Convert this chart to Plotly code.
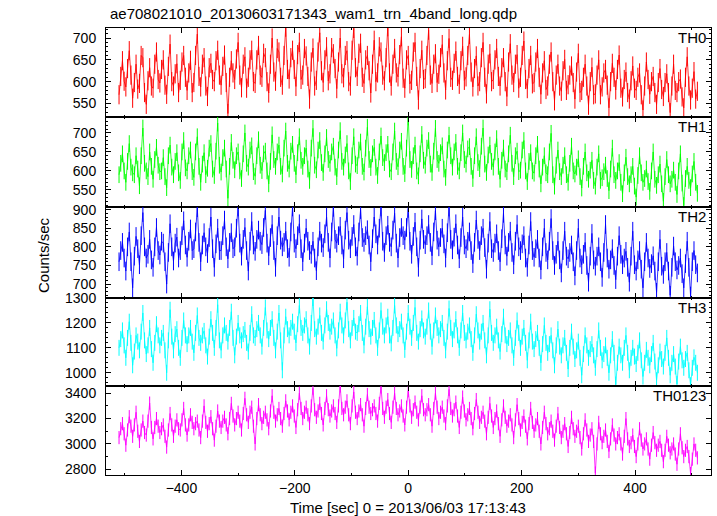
import plotly.graph_objects as go

# ---------------- data ----------------
TITLE = "ae708021010_20130603171343_wam1_trn_4band_long.qdp"
X_LABEL = "Time [sec] 0 = 2013/06/03 17:13:43"
Y_LABEL = "Counts/sec"
PANEL_NAMES = ["TH0", "TH1", "TH2", "TH3", "TH0123"]
COLORS = ["#ff0000", "#00ff00", "#0000ff", "#00ffff", "#ff00ff"]

T_START = -510
T_STEP = 3
N_POINTS = 341
time_sec = [T_START + T_STEP * i for i in range(N_POINTS)]

# typical 1-sigma error bar of each band (counts/sec)
ERRORS = [22, 22, 25, 32, 52]

th0 = [570, 612, 648, 601, 588, 630, 671, 615, 562, 598, 640, 583, 596, 660, 655, 575, 548, 602, 632, 590,
       585, 640, 668, 605, 597, 628, 650, 592, 571, 635, 686, 600, 590, 618, 641, 575, 603, 645, 660, 610,
       580, 620, 649, 575, 598, 660, 709, 612, 588, 640, 655, 590, 566, 632, 642, 605, 600, 648, 672, 615,
       592, 635, 661, 598, 527, 610, 648, 620, 605, 652, 690, 615, 586, 640, 657, 585, 610, 650, 672, 600,
       596, 650, 683, 615, 610, 665, 655, 600, 574, 640, 700, 622, 601, 676, 668, 610, 592, 660, 725, 628,
       606, 655, 672, 628, 589, 662, 690, 605, 615, 676, 659, 612, 560, 645, 677, 590, 603, 668, 712, 625,
       598, 650, 680, 602, 618, 678, 664, 630, 584, 645, 700, 618, 609, 660, 671, 600, 590, 672, 722, 632,
       612, 665, 688, 610, 596, 650, 660, 625, 574, 640, 695, 600, 620, 680, 668, 615, 602, 655, 726, 620,
       590, 640, 676, 620, 611, 662, 703, 608, 585, 650, 660, 595, 603, 668, 690, 612, 558, 630, 672, 605,
       607, 660, 718, 615, 596, 640, 664, 598, 617, 655, 685, 620, 581, 648, 699, 610, 603, 642, 670, 612,
       594, 648, 681, 603, 611, 660, 708, 622, 588, 630, 659, 590, 600, 655, 690, 610, 572, 640, 664, 600,
       605, 650, 676, 612, 590, 632, 655, 600, 566, 645, 687, 615, 598, 640, 662, 585, 610, 660, 693, 605,
       584, 630, 660, 595, 598, 645, 676, 610, 571, 620, 648, 582, 590, 640, 668, 600, 556, 615, 640, 590,
       578, 625, 651, 580, 593, 615, 636, 598, 560, 622, 665, 575, 580, 610, 640, 590, 546, 600, 633, 570,
       572, 615, 650, 570, 588, 620, 628, 592, 540, 600, 642, 610, 581, 628, 661, 585, 565, 605, 622, 575,
       560, 602, 636, 585, 580, 610, 620, 570, 535, 590, 645, 605, 571, 600, 612, 575, 548, 598, 630, 582,
       566, 598, 618, 575, 529, 590, 640, 580, 575, 600, 606, 565, 540, 610, 657, 590, 558, 585, 623, 560, 578]

th1 = [590, 620, 645, 600, 570, 625, 672, 610, 595, 590, 640, 605, 561, 640, 713, 620, 600, 585, 650, 612,
       578, 630, 662, 615, 598, 600, 635, 585, 556, 640, 668, 610, 590, 625, 648, 595, 575, 650, 680, 608,
       600, 640, 655, 598, 583, 650, 690, 612, 570, 618, 648, 590, 607, 660, 672, 605, 588, 652, 726, 615,
       597, 635, 660, 605, 528, 612, 675, 628, 603, 640, 650, 600, 580, 645, 700, 620, 610, 655, 666, 598,
       586, 640, 682, 615, 601, 645, 652, 600, 566, 625, 695, 630, 612, 650, 668, 612, 592, 660, 705, 620,
       605, 652, 670, 620, 590, 648, 690, 628, 612, 640, 660, 605, 575, 660, 712, 615, 603, 655, 680, 622,
       596, 645, 688, 630, 620, 650, 665, 610, 585, 655, 706, 625, 610, 642, 672, 600, 572, 640, 690, 618,
       614, 655, 676, 612, 597, 660, 715, 630, 609, 645, 662, 610, 588, 650, 692, 635, 622, 648, 670, 605,
       598, 650, 705, 625, 611, 655, 678, 612, 593, 660, 742, 630, 604, 640, 668, 600, 587, 645, 696, 628,
       615, 660, 680, 618, 596, 652, 712, 630, 620, 648, 666, 605, 583, 655, 694, 640, 610, 650, 675, 612,
       600, 648, 700, 630, 618, 658, 664, 612, 580, 640, 690, 622, 606, 665, 713, 618, 596, 642, 668, 625,
       610, 650, 685, 612, 578, 628, 660, 605, 598, 645, 694, 620, 585, 640, 652, 598, 602, 655, 680, 600,
       572, 625, 648, 600, 594, 640, 670, 605, 566, 610, 640, 595, 590, 650, 699, 590, 560, 615, 655, 598,
       585, 615, 640, 590, 570, 620, 665, 600, 592, 610, 632, 585, 555, 612, 650, 595, 578, 602, 628, 575,
       560, 610, 645, 575, 582, 598, 615, 580, 548, 605, 660, 590, 575, 600, 622, 570, 540, 595, 636, 585,
       566, 590, 612, 560, 531, 588, 640, 595, 570, 580, 605, 572, 546, 600, 650, 578, 562, 590, 618, 566,
       520, 585, 630, 590, 566, 578, 602, 570, 538, 600, 645, 568, 509, 580, 612, 575, 556, 592, 625, 570, 541]

th2 = [760, 790, 812, 770, 735, 800, 840, 760, 690, 775, 828, 795, 752, 830, 892, 800, 770, 780, 820, 765,
       745, 800, 852, 790, 778, 815, 810, 760, 700, 785, 862, 800, 762, 810, 826, 770, 790, 830, 870, 805,
       772, 815, 848, 790, 795, 840, 905, 812, 760, 805, 838, 800, 782, 825, 880, 795, 745, 808, 850, 790,
       790, 830, 872, 800, 768, 812, 838, 795, 800, 850, 907, 810, 775, 820, 852, 790, 735, 815, 868, 805,
       788, 820, 845, 815, 806, 852, 898, 810, 776, 825, 860, 790, 745, 830, 880, 818, 800, 812, 842, 795,
       772, 840, 907, 810, 795, 830, 862, 795, 760, 810, 850, 815, 790, 780, 815, 770, 736, 800, 842, 810,
       798, 835, 880, 812, 770, 840, 906, 820, 810, 830, 855, 805, 768, 845, 892, 818, 795, 828, 860, 800,
       775, 840, 900, 825, 812, 830, 846, 805, 760, 822, 880, 835, 805, 850, 907, 815, 785, 830, 858, 812,
       800, 845, 890, 810, 770, 825, 852, 830, 818, 852, 903, 815, 780, 828, 866, 800, 745, 818, 875, 820,
       806, 830, 860, 812, 776, 840, 897, 818, 800, 825, 850, 808, 770, 838, 907, 820, 792, 826, 862, 805,
       768, 825, 880, 805, 795, 815, 840, 790, 755, 812, 872, 820, 790, 830, 850, 798, 740, 810, 868, 795,
       785, 810, 835, 790, 760, 822, 890, 805, 775, 812, 842, 785, 752, 815, 860, 800, 790, 808, 830, 770,
       745, 805, 868, 790, 772, 795, 820, 770, 738, 800, 850, 785, 765, 815, 876, 790, 750, 780, 815, 765,
       730, 790, 842, 775, 768, 785, 805, 760, 722, 790, 850, 770, 752, 780, 812, 750, 705, 775, 836, 765,
       748, 775, 800, 760, 718, 785, 860, 770, 740, 765, 795, 750, 712, 775, 830, 780, 752, 770, 788, 745,
       705, 775, 842, 752, 735, 765, 790, 740, 690, 760, 812, 770, 742, 755, 776, 735, 678, 760, 820, 748,
       726, 760, 785, 735, 670, 745, 802, 760, 738, 750, 770, 728, 690, 755, 815, 745, 668, 760, 790, 752, 730]

th3 = [1100, 1135, 1170, 1110, 1060, 1140, 1205, 1120, 1030, 1085, 1150, 1125, 1090, 1165, 1240, 1130, 1075, 1110, 1180, 1095,
       1040, 1120, 1195, 1150, 1110, 1140, 1160, 1090, 1000, 1130, 1253, 1145, 1090, 1155, 1175, 1100, 1060, 1140, 1210, 1150,
       1115, 1150, 1180, 1125, 1080, 1160, 1230, 1140, 1120, 1150, 1168, 1110, 1065, 1145, 1215, 1160, 1100, 1180, 1273, 1130,
       1090, 1150, 1190, 1160, 1125, 1180, 1245, 1140, 1070, 1145, 1200, 1150, 1130, 1155, 1172, 1120, 1085, 1160, 1235, 1150,
       1140, 1175, 1200, 1150, 1105, 1180, 1262, 1170, 1135, 1180, 1215, 1140, 1090, 1165, 1240, 1130, 1010, 1150, 1225, 1175,
       1150, 1180, 1205, 1165, 1120, 1195, 1270, 1180, 1160, 1190, 1215, 1150, 1105, 1200, 1300, 1175, 1145, 1185, 1230, 1160,
       1125, 1190, 1255, 1200, 1165, 1185, 1210, 1150, 1098, 1170, 1245, 1190, 1150, 1210, 1283, 1175, 1130, 1180, 1220, 1165,
       1160, 1195, 1240, 1160, 1110, 1185, 1265, 1175, 1145, 1180, 1212, 1150, 1100, 1170, 1250, 1185, 1150, 1190, 1225, 1150,
       1118, 1180, 1270, 1190, 1155, 1175, 1205, 1150, 1092, 1165, 1240, 1185, 1140, 1200, 1262, 1160, 1125, 1175, 1218, 1170,
       1145, 1185, 1250, 1165, 1105, 1170, 1230, 1180, 1150, 1175, 1200, 1140, 1090, 1165, 1258, 1180, 1135, 1170, 1215, 1150,
       1100, 1170, 1240, 1160, 1130, 1165, 1190, 1135, 1080, 1150, 1235, 1170, 1125, 1165, 1200, 1130, 1070, 1150, 1255, 1160,
       1120, 1150, 1185, 1130, 1085, 1155, 1225, 1150, 1115, 1140, 1170, 1110, 1060, 1140, 1210, 1160, 1100, 1145, 1180, 1120,
       1050, 1130, 1205, 1125, 1095, 1135, 1160, 1100, 1040, 1115, 1190, 1120, 1080, 1115, 1150, 1090, 1030, 1110, 1175, 1105,
       1070, 1110, 1140, 1080, 1015, 1100, 1165, 1105, 1055, 1090, 1125, 1060, 990, 1075, 1150, 1110, 1060, 1095, 1115, 1070,
       1020, 1095, 1170, 1100, 1050, 1075, 1110, 1060, 1000, 1070, 1135, 1080, 953, 1040, 1105, 1070, 1040, 1100, 1150, 1080,
       1010, 1060, 1100, 1065, 1035, 1080, 1130, 1050, 985, 1040, 1092, 1060, 1030, 1075, 1120, 1045, 970, 1030, 1085, 1055,
       1025, 1080, 1140, 1060, 990, 1040, 1075, 1025, 955, 1045, 1105, 1050, 1020, 1055, 1080, 1010, 950, 1020, 1062, 1040, 1000]

th0123 = [3050, 3120, 3160, 3080, 2990, 3110, 3215, 3140, 3060, 3150, 3250, 3100, 3020, 3110, 3180, 3090, 3070, 3180, 3322, 3130,
          3040, 3130, 3200, 3140, 3090, 3120, 3150, 3060, 2975, 3110, 3240, 3150, 3060, 3140, 3190, 3120, 3110, 3190, 3280, 3150,
          3070, 3150, 3230, 3170, 3120, 3160, 3180, 3110, 3050, 3180, 3300, 3170, 3100, 3160, 3215, 3120, 3030, 3140, 3260, 3180,
          3130, 3180, 3210, 3150, 3080, 3200, 3320, 3220, 3150, 3200, 3250, 3180, 3110, 3240, 3360, 3230, 3170, 3250, 3290, 3140,
          3000, 3200, 3310, 3230, 3160, 3210, 3250, 3190, 3120, 3260, 3380, 3250, 3180, 3230, 3280, 3200, 3140, 3240, 3340, 3260,
          3190, 3250, 3300, 3220, 3130, 3270, 3400, 3280, 3200, 3250, 3290, 3230, 3160, 3300, 3440, 3270, 3210, 3260, 3320, 3240,
          3150, 3280, 3380, 3270, 3220, 3260, 3300, 3240, 3170, 3300, 3457, 3280, 3230, 3290, 3340, 3230, 3160, 3300, 3410, 3250,
          3200, 3260, 3310, 3230, 3140, 3280, 3390, 3290, 3240, 3270, 3300, 3240, 3180, 3320, 3450, 3280, 3210, 3290, 3350, 3240,
          3170, 3290, 3400, 3280, 3230, 3260, 3300, 3220, 3150, 3290, 3420, 3300, 3210, 3270, 3330, 3250, 3190, 3290, 3380, 3270,
          3230, 3270, 3310, 3230, 3140, 3280, 3400, 3290, 3200, 3250, 3290, 3220, 3160, 3300, 3430, 3280, 3220, 3270, 3330, 3220,
          3130, 3250, 3370, 3260, 3190, 3230, 3280, 3200, 3120, 3240, 3350, 3250, 3170, 3210, 3250, 3180, 3080, 3210, 3320, 3220,
          3130, 3200, 3260, 3160, 3060, 3190, 3300, 3210, 3140, 3180, 3230, 3150, 3050, 3190, 3310, 3200, 3110, 3170, 3220, 3140,
          3040, 3160, 3280, 3170, 3100, 3150, 3200, 3100, 3000, 3130, 3250, 3160, 3080, 3120, 3180, 3100, 3030, 3140, 3240, 3130,
          3050, 3100, 3160, 3080, 2980, 3090, 3210, 3120, 3060, 3100, 3140, 3050, 2960, 3080, 3190, 3110, 3020, 3070, 3120, 3020,
          2770, 3000, 3170, 3080, 3010, 3060, 3110, 3020, 2940, 3040, 3150, 3070, 3000, 3050, 3080, 3000, 2920, 3060, 3200, 3040,
          2980, 3010, 3070, 2980, 2900, 3000, 3120, 3030, 2960, 3000, 3040, 2960, 2880, 2990, 3090, 3010, 2950, 2990, 3020, 2950,
          2860, 2950, 3060, 2990, 2930, 2960, 3000, 2920, 2840, 2960, 3080, 2970, 2900, 2950, 2980, 2900, 2766, 2880, 3000, 2950, 2890]

SERIES = [th0, th1, th2, th3, th0123]

X_RANGE = [-533, 534]
X_TICKS = [-400, -200, 0, 200, 400]
Y_RANGES = [[519, 723], [505, 742], [664, 907], [947, 1302], [2755, 3457]]
Y_TICKS = [[550, 600, 650, 700], [550, 600, 650, 700],
           [700, 750, 800, 850, 900], [1000, 1100, 1200, 1300],
           [2800, 3000, 3200, 3400]]
Y_MINOR = [10, 10, 10, 20, 100]

# ---------------- layout geometry ----------------
W, H = 717, 516
ML, MR, MT, MB = 106, 6, 28, 41
PW = W - ML - MR
PH = H - MT - MB
panel_px = [28, 117, 207, 297.5, 386, 475]  # panel borders (pixels from top)


def py(px):
    return 1 - (px - MT) / PH


FONT = "Liberation Sans, Arial, Helvetica, sans-serif"

fig = go.Figure()
layout = dict(
    width=W, height=H,
    margin=dict(l=ML, r=MR, t=MT, b=MB),
    paper_bgcolor="white", plot_bgcolor="white",
    showlegend=False,
    font=dict(family=FONT, size=14, color="black"),
)

annotations = []
for k in range(5):
    n = k + 1
    xa = "x" if n == 1 else f"x{n}"
    ya = "y" if n == 1 else f"y{n}"
    fig.add_trace(go.Scatter(
        x=time_sec, y=SERIES[k], mode="lines",
        line=dict(color=COLORS[k], width=0.8),
        error_y=dict(type="constant", value=ERRORS[k], color=COLORS[k],
                     thickness=1, width=0),
        xaxis=xa, yaxis=ya, hoverinfo="skip",
    ))
    top, bot = panel_px[k], panel_px[k + 1]
    dom = [py(bot), py(top)]
    xkey = "xaxis" if n == 1 else f"xaxis{n}"
    ykey = "yaxis" if n == 1 else f"yaxis{n}"
    layout[xkey] = dict(
        domain=[0, 1], anchor=ya, range=X_RANGE,
        tickvals=X_TICKS, showticklabels=(n == 5),
        ticks="inside", ticklen=5, tickwidth=1, tickcolor="black",
        minor=dict(dtick=100, tick0=0, ticks="inside", ticklen=2,
                   tickcolor="black", showgrid=False),
        showline=True, linecolor="black", linewidth=1, mirror="ticks",
        showgrid=False, zeroline=False,
        tickfont=dict(size=14, family=FONT, color="black"),
    )
    if n != 1:
        layout[xkey]["matches"] = "x"
    layout[ykey] = dict(
        domain=dom, anchor=xa, range=Y_RANGES[k],
        tickvals=Y_TICKS[k],
        ticks="inside", ticklen=5, tickwidth=1, tickcolor="black",
        minor=dict(dtick=Y_MINOR[k], ticks="inside", ticklen=2,
                   tickcolor="black", showgrid=False),
        showline=True, linecolor="black", linewidth=1, mirror="ticks",
        showgrid=False, zeroline=False,
        tickfont=dict(size=14, family=FONT, color="black"),
        ticklabelstandoff=6,
    )
    annotations.append(dict(
        text=PANEL_NAMES[k], xref="paper", yref="paper",
        x=1, y=py(top), xanchor="right", yanchor="top",
        xshift=-3, yshift=1, showarrow=False,
        font=dict(size=15, family=FONT, color="black"),
    ))

annotations.append(dict(
    text=TITLE, xref="paper", yref="paper",
    x=(108 - ML) / PW, y=py(14), xanchor="left", yanchor="middle",
    showarrow=False, font=dict(size=15, family=FONT, color="black"),
))
annotations.append(dict(
    text=X_LABEL, xref="paper", yref="paper",
    x=(408 - ML) / PW, y=py(507), xanchor="center", yanchor="middle",
    showarrow=False, font=dict(size=15, family=FONT, color="black"),
))
annotations.append(dict(
    text=Y_LABEL, xref="paper", yref="paper",
    x=(43 - ML) / PW, y=py(255), xanchor="center", yanchor="middle",
    textangle=-90,
    showarrow=False, font=dict(size=15, family=FONT, color="black"),
))
layout["annotations"] = annotations

fig.update_layout(**layout)
fig.write_html("out.html",
               config={"displayModeBar": False},
               post_script="document.body.style.margin='0';"
                           "document.body.style.overflow='hidden';")
